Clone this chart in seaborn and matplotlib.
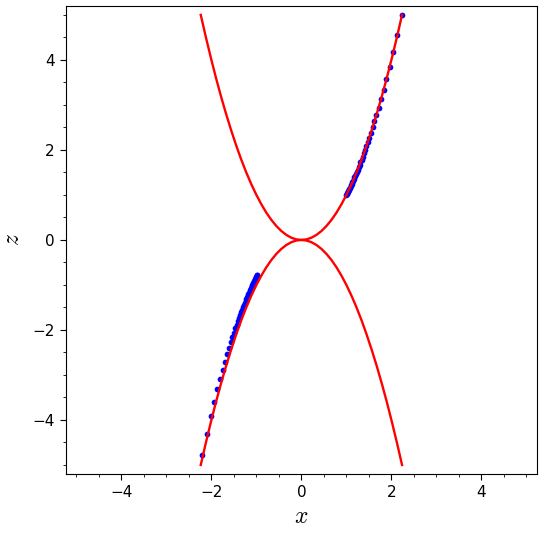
import numpy as np
import seaborn as sns
import matplotlib.pyplot as plt
from matplotlib.ticker import MultipleLocator

plt.rcParams['mathtext.fontset'] = 'cm'

# parabola z = x^2 (upper) and z = -x^2 (lower)
curve_x = [-2.236, -2.124, -2.012, -1.901, -1.789, -1.677, -1.565, -1.453, -1.342, -1.230,
           -1.118, -1.006, -0.894, -0.783, -0.671, -0.559, -0.447, -0.335, -0.224, -0.112,
           0.0,
           0.112, 0.224, 0.335, 0.447, 0.559, 0.671, 0.783, 0.894, 1.006, 1.118,
           1.230, 1.342, 1.453, 1.565, 1.677, 1.789, 1.901, 2.012, 2.124, 2.236]
curve_up = [5.0, 4.5125, 4.05, 3.6125, 3.2, 2.8125, 2.45, 2.1125, 1.8, 1.5125,
            1.25, 1.0125, 0.8, 0.6125, 0.45, 0.3125, 0.2, 0.1125, 0.05, 0.0125,
            0.0,
            0.0125, 0.05, 0.1125, 0.2, 0.3125, 0.45, 0.6125, 0.8, 1.0125, 1.25,
            1.5125, 1.8, 2.1125, 2.45, 2.8125, 3.2, 3.6125, 4.05, 4.5125, 5.0]
curve_down = [-v for v in curve_up]

# blue points, upper right branch
pts_up_x = [2.236, 2.132, 2.041, 1.961, 1.890, 1.826, 1.768, 1.715, 1.667, 1.622,
            1.581, 1.543, 1.508, 1.474, 1.443, 1.414, 1.387, 1.361, 1.336, 1.313,
            1.291, 1.270, 1.250, 1.231, 1.213, 1.195, 1.179, 1.162, 1.147, 1.132,
            1.118, 1.104, 1.091, 1.078, 1.066, 1.054, 1.043, 1.031, 1.021, 1.010, 1.000]
pts_up_z = [5.000, 4.545, 4.167, 3.846, 3.571, 3.333, 3.125, 2.941, 2.778, 2.632,
            2.500, 2.381, 2.273, 2.174, 2.083, 2.000, 1.923, 1.852, 1.786, 1.724,
            1.667, 1.613, 1.563, 1.515, 1.471, 1.429, 1.389, 1.351, 1.316, 1.282,
            1.250, 1.220, 1.190, 1.163, 1.136, 1.111, 1.087, 1.064, 1.042, 1.020, 1.000]

# blue points, lower left branch (sits a little left of the curve)
pts_dn_x = [-2.200, -2.099, -2.007, -1.935, -1.871, -1.807, -1.749, -1.697, -1.650, -1.607,
            -1.567, -1.531, -1.497, -1.465, -1.436, -1.409, -1.383, -1.359, -1.336, -1.314,
            -1.294, -1.274, -1.256, -1.239, -1.222, -1.206, -1.191, -1.176, -1.163, -1.149,
            -1.137, -1.124, -1.113, -1.101, -1.090, -1.080, -1.070, -1.060, -1.050, -1.041,
            -1.032, -1.024, -1.015, -1.007, -0.999, -0.991, -0.984, -0.977]
pts_dn_z = [-4.780, -4.306, -3.918, -3.594, -3.319, -3.084, -2.880, -2.701, -2.543, -2.402,
            -2.276, -2.163, -2.060, -1.967, -1.882, -1.804, -1.732, -1.666, -1.604, -1.547,
            -1.494, -1.444, -1.398, -1.354, -1.313, -1.275, -1.238, -1.204, -1.172, -1.141,
            -1.112, -1.084, -1.058, -1.032, -1.008, -0.986, -0.964, -0.943, -0.923, -0.904,
            -0.885, -0.868, -0.851, -0.834, -0.818, -0.803, -0.789, -0.775]

fig = plt.figure(figsize=(5.5, 5.38), dpi=100)
ax = fig.add_axes([0.12, 0.119, 0.856, 0.870])

sns.scatterplot(x=pts_up_x, y=pts_up_z, color='#0000ff', s=17, linewidth=0, zorder=2, ax=ax)
sns.scatterplot(x=pts_dn_x, y=pts_dn_z, color='#0000ff', s=17, linewidth=0, zorder=2, ax=ax)
sns.lineplot(x=curve_x, y=curve_up, sort=False, color='#ff0000', linewidth=1.7, zorder=3, ax=ax)
sns.lineplot(x=curve_x, y=curve_down, sort=False, color='#ff0000', linewidth=1.7, zorder=3, ax=ax)

ax.set_xlim(-5.23, 5.23)
ax.set_ylim(-5.2, 5.2)
ax.set_xticks([-4, -2, 0, 2, 4])
ax.set_yticks([-4, -2, 0, 2, 4])
ax.xaxis.set_minor_locator(MultipleLocator(0.5))
ax.yaxis.set_minor_locator(MultipleLocator(0.5))
ax.tick_params(which='major', labelsize=11, length=4.5)
ax.tick_params(which='minor', length=2.5)
ax.set_xlabel('$x$', fontsize=17, labelpad=3)
ax.set_ylabel('$z$', fontsize=17, labelpad=6)

plt.savefig('out.png', dpi=100)
